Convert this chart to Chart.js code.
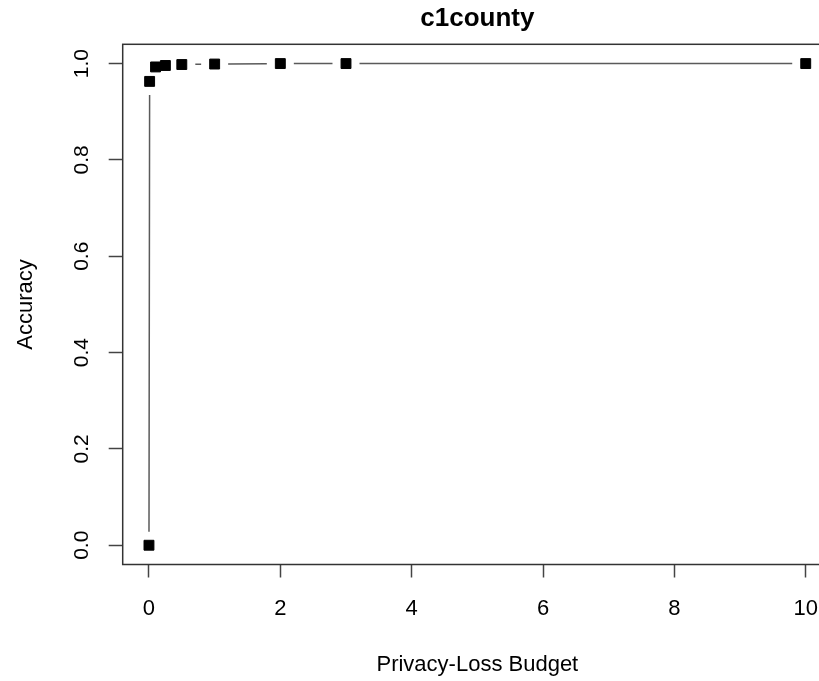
<!DOCTYPE html>
<html>
<head>
<meta charset="utf-8">
<script src="https://cdn.jsdelivr.net/npm/chart.js@4.4.1/dist/chart.umd.min.js"></script>
<style>
  html, body { margin: 0; padding: 0; background: #fff; overflow: hidden; }
  #wrap { width: 850px; height: 681px; }
</style>
</head>
<body>
<div id="wrap"><canvas id="c" width="850" height="681"></canvas></div>
<script>
// Privacy-loss budget vs. accuracy for c1county
const budgets  = [0, 0.01, 0.1, 0.25, 0.5, 1, 2, 3, 10];
const accuracy = [0, 0.963, 0.993, 0.996, 0.998, 0.999, 1.0, 1.0, 1.0];

const xTicks = [0, 2, 4, 6, 8, 10];
const xTickLabels = ['0', '2', '4', '6', '8', '10'];
const yTicks = [0, 0.2, 0.4, 0.6, 0.8, 1.0];
const yTickLabels = ['0.0', '0.2', '0.4', '0.6', '0.8', '1.0'];

const FONT = "'Liberation Sans', Arial, Helvetica, sans-serif";

// Connect consecutive points with segments that stop short of each marker
const gappedLine = {
  id: 'gappedLine',
  beforeDatasetsDraw(chart) {
    const pts = chart.getDatasetMeta(0).data;
    const gap = 13.5;
    const ctx = chart.ctx;
    ctx.save();
    ctx.strokeStyle = '#5a5a5a';
    ctx.lineWidth = 1.5;
    ctx.beginPath();
    for (let i = 1; i < pts.length; i++) {
      const a = pts[i - 1], b = pts[i];
      const dx = b.x - a.x, dy = b.y - a.y;
      const d = Math.hypot(dx, dy);
      if (d <= 2 * gap) continue;
      const ux = dx / d, uy = dy / d;
      ctx.moveTo(a.x + ux * gap, a.y + uy * gap);
      ctx.lineTo(b.x - ux * gap, b.y - uy * gap);
    }
    ctx.stroke();
    ctx.restore();
  }
};

// Frame around the plotting region
const plotBox = {
  id: 'plotBox',
  afterDatasetsDraw(chart) {
    const { left, top, right, bottom } = chart.chartArea;
    const ctx = chart.ctx;
    ctx.save();
    ctx.strokeStyle = '#333';
    ctx.lineWidth = 1.5;
    ctx.strokeRect(left, top, right - left, bottom - top);
    ctx.restore();
  }
};

new Chart(document.getElementById('c'), {
  type: 'scatter',
  data: {
    datasets: [{
      data: budgets.map((x, i) => ({ x, y: accuracy[i] })),
      showLine: false,
      pointStyle: 'rect',
      pointRadius: 7,
      pointHoverRadius: 7,
      pointBackgroundColor: '#000',
      pointBorderColor: '#000',
      pointBorderWidth: 1,
      clip: false
    }]
  },
  options: {
    responsive: false,
    devicePixelRatio: 1,
    animation: false,
    events: [],
    layout: { padding: { left: 0, right: 18, top: 0, bottom: 0 } },
    plugins: {
      legend: { display: false },
      tooltip: { enabled: false },
      title: {
        display: true,
        text: 'c1county',
        fullSize: false,
        color: '#000',
        font: { family: FONT, size: 26, weight: 'bold' },
        padding: { top: 2.9, bottom: 10.2 }
      }
    },
    scales: {
      x: {
        type: 'linear',
        min: -0.4,
        max: 10.4,
        afterBuildTicks: s => { s.ticks = xTicks.map(v => ({ value: v })); },
        afterFit: s => { s.height = 116.5; },
        ticks: {
          autoSkip: false,
          minRotation: 0,
          maxRotation: 0,
          padding: 18,
          color: '#000',
          font: { family: FONT, size: 22 },
          callback: (v, i) => xTickLabels[i]
        },
        grid: {
          drawOnChartArea: false,
          drawTicks: true,
          tickLength: 13,
          tickColor: '#444',
          tickWidth: 1.5
        },
        border: { display: false },
        title: {
          display: true,
          text: 'Privacy-Loss Budget',
          color: '#000',
          font: { family: FONT, size: 22 },
          padding: { top: 0, bottom: 3 }
        }
      },
      y: {
        type: 'linear',
        min: -0.04,
        max: 1.04,
        afterBuildTicks: s => { s.ticks = yTicks.map(v => ({ value: v })); },
        afterFit: s => { s.width = 122.7; },
        ticks: {
          autoSkip: false,
          minRotation: 90,
          maxRotation: 90,
          crossAlign: 'center',
          padding: 11.6,
          color: '#000',
          font: { family: FONT, size: 21 },
          callback: (v, i) => yTickLabels[i]
        },
        grid: {
          drawOnChartArea: false,
          drawTicks: true,
          tickLength: 14,
          tickColor: '#444',
          tickWidth: 1.5
        },
        border: { display: false },
        title: {
          display: true,
          text: 'Accuracy',
          color: '#000',
          font: { family: FONT, size: 22 },
          padding: { top: 12.3, bottom: 0 }
        }
      }
    }
  },
  plugins: [gappedLine, plotBox]
});
</script>
</body>
</html>
